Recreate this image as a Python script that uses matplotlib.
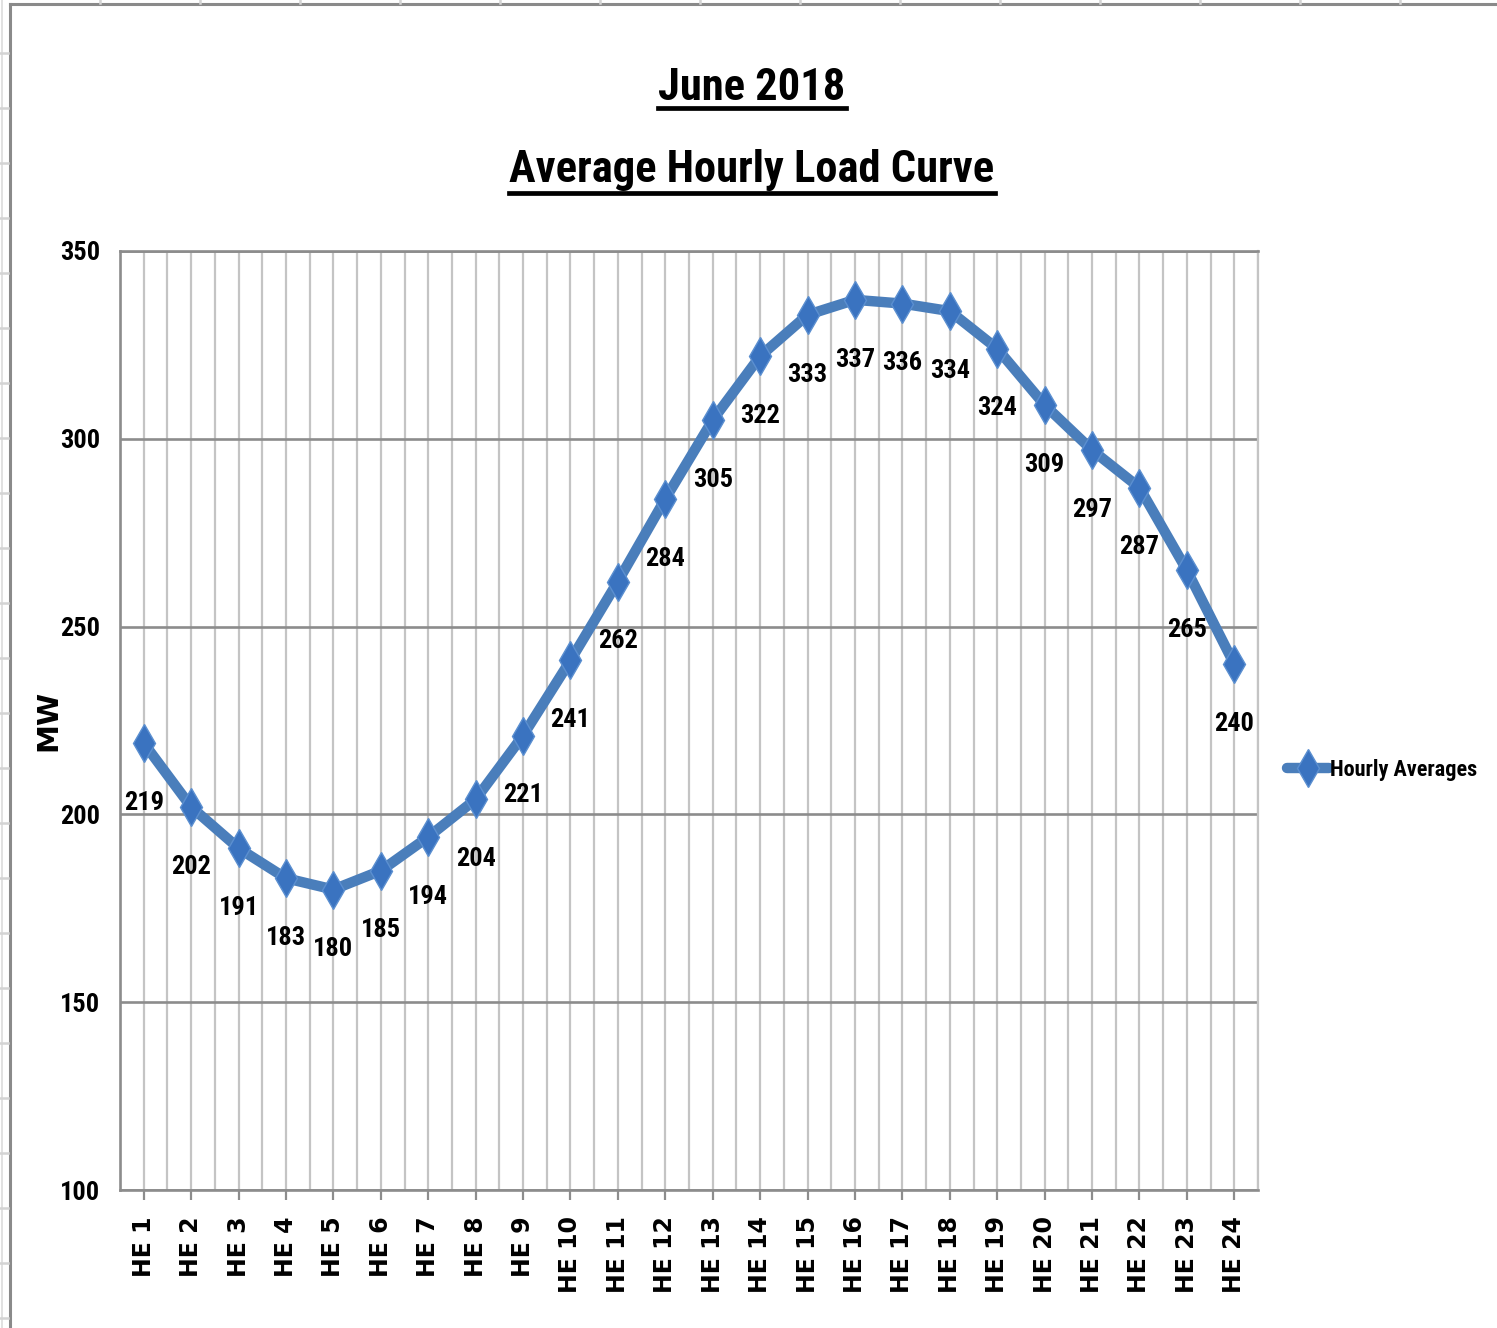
import matplotlib
matplotlib.use("Agg")
import matplotlib.pyplot as plt
from matplotlib.lines import Line2D
from matplotlib import font_manager as fm
import numpy as np

# ---- data ----
hours = ["HE 1", "HE 2", "HE 3", "HE 4", "HE 5", "HE 6", "HE 7", "HE 8",
         "HE 9", "HE 10", "HE 11", "HE 12", "HE 13", "HE 14", "HE 15", "HE 16",
         "HE 17", "HE 18", "HE 19", "HE 20", "HE 21", "HE 22", "HE 23", "HE 24"]
load_mw = [219, 202, 191, 183, 180, 185, 194, 204, 221, 241, 262, 284,
           305, 322, 333, 337, 336, 334, 324, 309, 297, 287, 265, 240]
y_ticks = [100, 150, 200, 250, 300, 350]
series_name = "Hourly Averages"
title_1 = "June 2018"
title_2 = "Average Hourly Load Curve"
y_label = "MW"


def pick_narrow():
    cands = ["Liberation Sans Narrow", "Roboto Condensed", "Open Sans Condensed",
             "Noto Sans Condensed", "DejaVu Sans Condensed"]
    for c in cands:
        try:
            fm.findfont(fm.FontProperties(family=c, weight="bold"),
                        fallback_to_default=False)
            return [c, "DejaVu Sans"], "normal"
        except Exception:
            pass
    for c in ["Noto Sans", "Open Sans", "Roboto", "DejaVu Sans"]:
        try:
            p = fm.findfont(fm.FontProperties(family=c, weight="bold",
                                              stretch="condensed"),
                            fallback_to_default=False)
            if "ondensed" in p or "arrow" in p:
                return [c, "DejaVu Sans"], "condensed"
        except Exception:
            pass
    return ["DejaVu Sans"], "normal"


NARROW, STRETCH = pick_narrow()
WIDE = ["DejaVu Sans"]
NP = dict(family=NARROW, fontweight="bold", fontstretch=STRETCH)

LINE_C = "#4a7ebb"
MARK_C = "#3a73c0"
DARK_GRID = "#8c8c8c"
LIGHT_GRID = "#c4c4c4"

W, H = 1497, 1328
fig = plt.figure(figsize=(W / 100, H / 100), dpi=100)
fig.patch.set_facecolor("white")


def fx(px):
    return px / W


def fy(py):
    return 1 - py / H


ax = fig.add_axes([fx(120), fy(1190), fx(1258) - fx(120), fy(251) - fy(1190)])
x = np.arange(len(hours))
ax.set_xlim(-0.5, len(hours) - 0.5)
ax.set_ylim(y_ticks[0], y_ticks[-1])

# grid
ax.set_xticks(x)
ax.set_xticks(np.arange(-0.5, len(hours), 1.0), minor=True)
ax.set_yticks(y_ticks)
ax.grid(axis="x", which="both", color=LIGHT_GRID, lw=1.6, zorder=0)
ax.grid(axis="y", which="major", color=DARK_GRID, lw=1.9, zorder=0)
ax.set_axisbelow(True)

for s in ["left", "bottom", "top"]:
    ax.spines[s].set_color(DARK_GRID)
    ax.spines[s].set_linewidth(1.9)
ax.spines["right"].set_color(LIGHT_GRID)
ax.spines["right"].set_linewidth(1.6)

ax.tick_params(axis="x", which="major", direction="out", length=7, width=1.6,
               color=DARK_GRID, pad=12)
ax.tick_params(axis="x", which="minor", length=0)
ax.tick_params(axis="y", which="major", length=0, pad=14)

ax.set_xticklabels(hours, rotation=90, fontsize=17, fontweight="bold",
                   family=WIDE, va="top", ha="center")
ax.set_yticklabels([str(v) for v in y_ticks], fontsize=19, **NP)

# line
ax.plot(x, load_mw, color=LINE_C, lw=7.5, solid_capstyle="round",
        solid_joinstyle="round", zorder=3, label=series_name,
        marker="d", markersize=19, markerfacecolor=MARK_C,
        markeredgecolor="#5b8fd0", markeredgewidth=1.0)

# data labels
for xi, v in zip(x, load_mw):
    ax.annotate(str(v), (xi, v), xytext=(0, -43), textcoords="offset points",
                ha="center", va="center", fontsize=19, zorder=4, **NP)

# y label
fig.text(fx(48), fy(720), y_label, rotation=90, ha="center", va="center",
         fontsize=21, fontweight="bold", family=WIDE)

# legend
leg = ax.legend(loc="center left", bbox_to_anchor=(fx(1287), fy(770)),
                bbox_transform=fig.transFigure, frameon=False,
                prop=fm.FontProperties(family=NARROW, weight="bold",
                                       stretch=STRETCH, size=16),
                handlelength=1.9, handletextpad=0.05, borderpad=0,
                borderaxespad=0)

# titles
t1 = fig.text(0.5 * (fx(675) + fx(829)), fy(100), title_1, ha="center",
              va="baseline", fontsize=32, **NP)
t2 = fig.text(0.5 * (fx(543) + fx(961)), fy(182), title_2, ha="center",
              va="baseline", fontsize=32, **NP)
fig.canvas.draw()
r = fig.canvas.get_renderer()
for t, uy in [(t1, 108), (t2, 193)]:
    bb = t.get_window_extent(r)
    fig.add_artist(Line2D([bb.x0 / W, bb.x1 / W], [fy(uy), fy(uy)],
                          transform=fig.transFigure, color="black", lw=3.4))

# chart frame and spreadsheet cell lines
fig.add_artist(Line2D([fx(9.5), fx(9.5)], [0, fy(4)], transform=fig.transFigure,
                      color="#8a8a8a", lw=2.2))
fig.add_artist(Line2D([fx(9.5), 1], [fy(4), fy(4)], transform=fig.transFigure,
                      color="#8a8a8a", lw=2.2))
fig.add_artist(Line2D([fx(2), fx(2)], [0, 1], transform=fig.transFigure,
                      color="#dcdcdc", lw=1.2))
for yy in range(53, H, 55):
    fig.add_artist(Line2D([0, fx(8)], [fy(yy), fy(yy)], transform=fig.transFigure,
                          color="#d4d4d4", lw=1.8))
for xx in range(100, W, 100):
    fig.add_artist(Line2D([fx(xx), fx(xx)], [fy(0), fy(3)], transform=fig.transFigure,
                          color="#d4d4d4", lw=1.8))

fig.savefig("out.png", dpi=100, facecolor="white")
